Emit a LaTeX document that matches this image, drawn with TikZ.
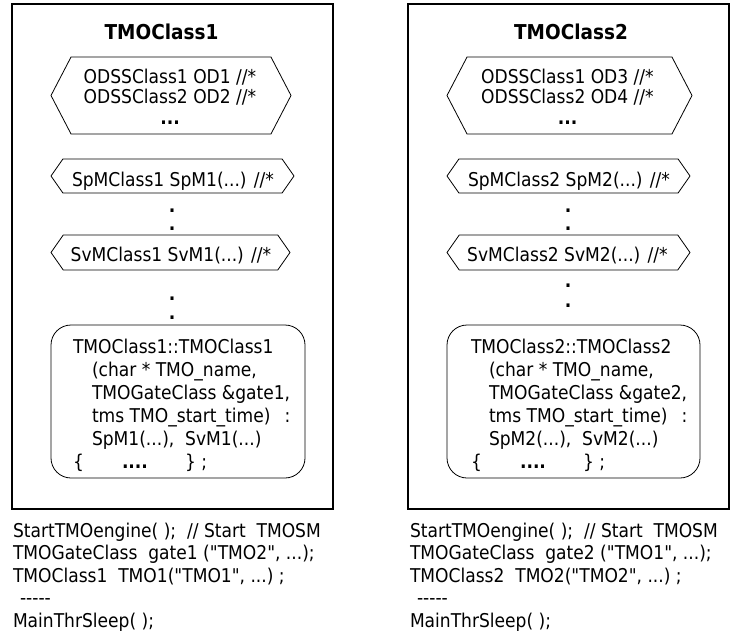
\documentclass[tikz,border=0pt]{standalone}
\usepackage{fontspec}
\setmainfont{DejaVu Sans Condensed}
\usetikzlibrary{shapes.symbols}

\begin{document}
\begin{tikzpicture}[x=1pt,y=-1pt,
  every node/.style={inner sep=0pt, outer sep=0pt},
  classbox/.style={draw, line width=2.5pt},
  classtitle/.style={font=\fontsize{20.5}{24}\selectfont\bfseries},
  hexa/.style={draw, line width=0.8pt, shape=signal, signal to=east and west},
  hextext/.style={font=\fontsize{19}{20.5}\selectfont, align=center, anchor=base},
  ctor/.style={draw, line width=0.8pt, rounded corners=20pt},
  code/.style={font=\fontsize{19}{23}\selectfont, align=left, anchor=base west},
  vdot/.style={font=\fontsize{19}{20}\selectfont\bfseries, anchor=base},
  mainprog/.style={font=\fontsize{19}{22.5}\selectfont, align=left, anchor=base west}
]
\useasboundingbox (0,0) rectangle (731,634);

% multi-line nodes are anchored at the baseline of their last line

% ---------- class 1 ----------
\node[classbox, minimum width=321, minimum height=505] (c1) at (172.5,256.5) {};
\node[classtitle] (t1) at (161.5,32) {TMOClass1};

\node[hexa, minimum width=240, minimum height=77, signal pointer angle=125] (od1) at (171,95.5) {};
\node[hextext] (od1t) at (170,124.3) {ODSSClass1 OD1 //*\\ODSSClass2 OD2 //*\\\textbf{...}};

\node[hexa, minimum width=243, minimum height=34, signal pointer angle=110] (sp1) at (172.5,176) {};
\node[hextext] (sp1t) at (173,186.5) {SpMClass1 SpM1(...) //*};

\node[vdot] (d1a) at (172,212) {.};
\node[vdot] (d1b) at (172,230) {.};

\node[hexa, minimum width=239, minimum height=35, signal pointer angle=110] (sv1) at (170.5,252.5) {};
\node[hextext] (sv1t) at (171,261.5) {SvMClass1 SvM1(...) //*};

\node[vdot] (d1c) at (172,300) {.};
\node[vdot] (d1d) at (172,319) {.};

\node[ctor, minimum width=254, minimum height=153] (k1) at (178,401.5) {};
\node[code] (k1t) at (73,468.3) {TMOClass1::TMOClass1\\
  \hspace*{19pt}(char * TMO\_name,\\
  \hspace*{19pt}TMOGateClass \&gate1,\\
  \hspace*{19pt}tms TMO\_start\_time)\hspace{14pt}:\\
  \hspace*{19pt}SpM1(...),~~SvM1(...)\\
  \rlap{\{}\hspace{49pt}\rlap{\textbf{....}}\hspace{63pt}\} ;};

\node[mainprog] (m1) at (13,627) {StartTMOengine(~);~~// Start~~TMOSM\\
  TMOGateClass~~gate1 (\textquotedbl TMO2\textquotedbl, ...);\\
  TMOClass1~~TMO1(\textquotedbl TMO1\textquotedbl, ...)~;\\
  \hspace*{7pt}-{}-{}-{}-{}-\\
  MainThrSleep(~);};

% ---------- class 2 ----------
\node[classbox, minimum width=321, minimum height=505] (c2) at (568.5,256.5) {};
\node[classtitle] (t2) at (571,32) {TMOClass2};

\node[hexa, minimum width=245, minimum height=77, signal pointer angle=125] (od2) at (569.5,95.5) {};
\node[hextext] (od2t) at (567.5,124.3) {ODSSClass1 OD3 //*\\ODSSClass2 OD4 //*\\\textbf{...}};

\node[hexa, minimum width=243, minimum height=34, signal pointer angle=110] (sp2) at (568.5,176) {};
\node[hextext] (sp2t) at (569,186.5) {SpMClass2 SpM2(...) //*};

\node[vdot] (d2a) at (568,212) {.};
\node[vdot] (d2b) at (568,230) {.};

\node[hexa, minimum width=243, minimum height=35, signal pointer angle=110] (sv2) at (568.5,252.5) {};
\node[hextext] (sv2t) at (567.5,261.5) {SvMClass2 SvM2(...) //*};

\node[vdot] (d2c) at (568,287) {.};
\node[vdot] (d2d) at (568,307) {.};

\node[ctor, minimum width=253, minimum height=153] (k2) at (573.5,401.5) {};
\node[code] (k2t) at (471,468.3) {TMOClass2::TMOClass2\\
  \hspace*{18pt}(char * TMO\_name,\\
  \hspace*{18pt}TMOGateClass \&gate2,\\
  \hspace*{18pt}tms TMO\_start\_time)\hspace{14pt}:\\
  \hspace*{18pt}SpM2(...),~~SvM2(...)\\
  \rlap{\{}\hspace{49pt}\rlap{\textbf{....}}\hspace{63pt}\} ;};

\node[mainprog] (m2) at (410,627) {StartTMOengine(~);~~// Start~~TMOSM\\
  TMOGateClass~~gate2 (\textquotedbl TMO1\textquotedbl, ...);\\
  TMOClass2~~TMO2(\textquotedbl TMO2\textquotedbl, ...)~;\\
  \hspace*{7pt}-{}-{}-{}-{}-\\
  MainThrSleep(~);};
\end{tikzpicture}
\end{document}
